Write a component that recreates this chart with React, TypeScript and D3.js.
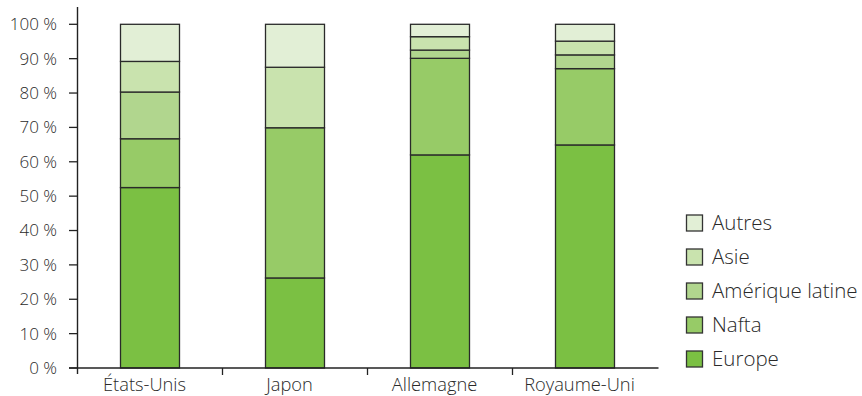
import React from "react";
import * as d3 from "d3";

const categories = ["États-Unis", "Japon", "Allemagne", "Royaume-Uni"];
const seriesNames = ["Europe", "Nafta", "Amérique latine", "Asie", "Autres"];
const europe = [52.5, 26.2, 62.0, 64.9];
const nafta = [14.2, 43.7, 28.1, 22.2];
const ameriqueLatine = [13.6, 0, 2.4, 4.0];
const asie = [8.9, 17.6, 3.9, 4.0];
const autres = [10.8, 12.5, 3.6, 4.9];
const yTicks = [0, 10, 20, 30, 40, 50, 60, 70, 80, 90, 100];
const colors = ["#7bc043", "#97cb67", "#b1d68e", "#c9e3ae", "#e2efd6"];

const seriesValues = [europe, nafta, ameriqueLatine, asie, autres];

export default function App() {
  const W = 862, H = 396;
  const x0 = 77.5, x1 = 657.5;
  const yBottom = 368, yTop = 24.3;
  const x = d3.scaleBand<string>().domain(categories).range([x0, x1]).paddingInner(0).paddingOuter(0);
  const y = d3.scaleLinear().domain([0, 100]).range([yBottom, yTop]);
  const barW = 59;

  const rows = categories.map((c, i) => {
    const o: any = { cat: c };
    seriesNames.forEach((s, j) => (o[s] = seriesValues[j][i]));
    return o;
  });
  const stacked = d3.stack<any>().keys(seriesNames)(rows);

  const font = "'Open Sans', 'DejaVu Sans', sans-serif";
  const textColor = "#2a2a2a";

  return (
    <svg width={W} height={H} style={{ position: "absolute", left: 0, top: 0 }} fontFamily={font}>
      <rect width={W} height={H} fill="#fff" />
      {/* bars */}
      {stacked.map((layer, j) =>
        layer.map((d, i) => {
          const cx = (x(categories[i]) as number) + x.bandwidth() / 2;
          const h = y(d[0]) - y(d[1]);
          if (h <= 0.01) return null;
          return (
            <rect
              key={`${j}-${i}`}
              x={cx - barW / 2}
              y={y(d[1])}
              width={barW}
              height={h}
              fill={colors[j]}
              stroke="#2a2a2a"
              strokeWidth={1.3}
            />
          );
        })
      )}
      {/* y axis */}
      <line x1={x0} x2={x0} y1={7} y2={374} stroke="#222" strokeWidth={1.4} />
      {yTicks.map((t) => (
        <g key={t}>
          <line x1={69} x2={x0} y1={y(t)} y2={y(t)} stroke="#222" strokeWidth={1.3} />
          <text x={57} y={y(t)} dy="0.35em" textAnchor="end" fontSize={17} fill={textColor} fontWeight={300}>
            {`${t} %`}
          </text>
        </g>
      ))}
      {/* x axis */}
      <line x1={69} x2={x1 + 1} y1={yBottom} y2={yBottom} stroke="#222" strokeWidth={1.4} />
      {categories.slice(1).map((c) => (
        <line key={c} x1={x(c) as number} x2={x(c) as number} y1={yBottom} y2={yBottom + 7} stroke="#222" strokeWidth={1.3} />
      ))}
      {categories.map((c) => (
        <text
          key={c}
          x={(x(c) as number) + x.bandwidth() / 2 - 5.5}
          y={391}
          textAnchor="middle"
          fontSize={18.3}
          fill={textColor}
          fontWeight={300}
        >
          {c}
        </text>
      ))}
      {/* legend */}
      {seriesNames
        .slice()
        .reverse()
        .map((s, k) => {
          const j = seriesNames.length - 1 - k;
          const cy = 223 + k * 34;
          return (
            <g key={s}>
              <rect x={686.5} y={cy - 8} width={16} height={16} fill={colors[j]} stroke="#333" strokeWidth={1.3} />
              <text x={712} y={cy} dy="0.35em" fontSize={20.5} fill={textColor} fontWeight={300}>
                {s}
              </text>
            </g>
          );
        })}
    </svg>
  );
}
